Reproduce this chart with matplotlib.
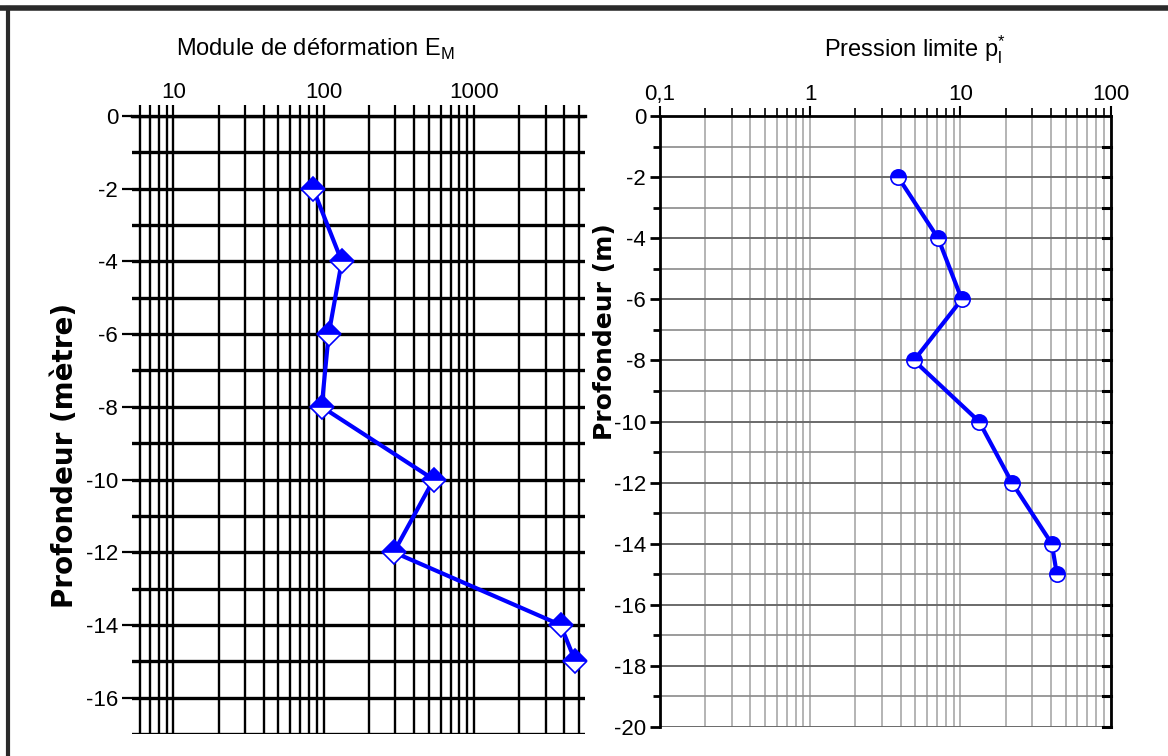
import matplotlib
matplotlib.use("Agg")
import matplotlib.pyplot as plt
import numpy as np
from matplotlib.ticker import LogLocator, FixedLocator, NullFormatter
from matplotlib.lines import Line2D

plt.rcParams['font.family'] = ['Liberation Sans', 'DejaVu Sans']
plt.rcParams['axes.unicode_minus'] = False

# profondeurs (m)
prof_em = [-2, -4, -6, -8, -10, -12, -14, -15]
em = [85, 132, 108, 97, 540, 293, 3770, 4730]

prof_pl = [-2, -4, -6, -8, -10, -12, -14, -15]
pl = [3.85, 7.1, 10.2, 4.9, 13.3, 22.0, 40.5, 43.8]

em_ticks = [10, 100, 1000]
pl_ticks = [0.1, 1, 10, 100]
pl_ticklabels = ['0,1', '1', '10', '100']

bleu = '#0000ff'

fig = plt.figure(figsize=(11.68, 7.56), dpi=100)

# ---------- graphique de gauche : module E_M ----------
ax1 = fig.add_axes([0.113, 0.0291, 0.388, 0.8175])
ax1.set_xscale('log')
ax1.set_xlim(5.3, 5500)
ax1.set_ylim(-17, 0)
for s in ax1.spines.values():
    s.set_visible(False)

ax1.xaxis.set_major_locator(FixedLocator(em_ticks))
ax1.xaxis.set_minor_locator(LogLocator(base=10, subs=np.arange(2, 10)))
ax1.xaxis.set_minor_formatter(NullFormatter())
ax1.set_xticklabels([str(t) for t in em_ticks])
ax1.xaxis.tick_top()
ax1.tick_params(axis='x', which='both', direction='out', length=8, width=1.6,
                color='black', labelsize=16, pad=1)
ax1.set_yticks(np.arange(-16, 1, 2))
ax1.yaxis.set_minor_locator(FixedLocator(np.arange(-17, 1, 1)))
ax1.tick_params(axis='y', which='major', direction='out', length=7, width=1.6, labelsize=16, pad=3)
ax1.tick_params(axis='y', which='minor', length=0)
ax1.grid(True, which='both', axis='x', color='black', linewidth=1.7)
ax1.grid(True, which='both', axis='y', color='black', linewidth=2.4)
ax1.axhline(0, color='black', linewidth=2.4, clip_on=False)

ax1.plot(em, prof_em, color=bleu, linewidth=3, marker='D', markersize=12,
         fillstyle='top', markerfacecolor=bleu, markerfacecoloralt='white',
         markeredgecolor=bleu, markeredgewidth=1.2, clip_on=False, zorder=5)

fig.text(0.27, 0.935, 'Module de déformation E$_\\mathregular{M}$', fontsize=17,
         ha='center', va='center')
fig.text(0.056, 0.398, 'Profondeur (mètre)', fontsize=20, fontweight='bold',
         rotation=90, ha='center', va='center', family='DejaVu Sans')

# ---------- graphique de droite : pression limite ----------
ax2 = fig.add_axes([0.565, 0.0384, 0.386, 0.808])
ax2.set_xscale('log')
ax2.set_xlim(0.1, 100)
ax2.set_ylim(-20, 0)
ax2.spines['bottom'].set_visible(False)
for k in ['left', 'top', 'right']:
    ax2.spines[k].set_linewidth(2)

ax2.xaxis.set_major_locator(FixedLocator(pl_ticks))
ax2.xaxis.set_minor_locator(LogLocator(base=10, subs=np.arange(2, 10)))
ax2.xaxis.set_minor_formatter(NullFormatter())
ax2.set_xticklabels(pl_ticklabels)
ax2.xaxis.tick_top()
ax2.tick_params(axis='x', which='major', direction='out', length=7, width=1.5, labelsize=16, pad=1)
ax2.tick_params(axis='x', which='minor', direction='out', length=6, width=1.2)
ax2.set_yticks(np.arange(-20, 1, 2))
ax2.yaxis.set_minor_locator(FixedLocator(np.arange(-19, 0, 2)))
ax2.tick_params(axis='y', which='major', direction='out', length=7, width=2, labelsize=16,
                left=True, right=False, pad=3)
ax2.tick_params(axis='y', which='minor', direction='out', length=5, width=2, left=True, right=False)
ax2.grid(True, which='both', axis='x', color='#a8a8a8', linewidth=1.2)
ax2.grid(True, which='major', axis='y', color='#6a6a6a', linewidth=1.4)
ax2.grid(True, which='minor', axis='y', color='#8a8a8a', linewidth=1.2)
# petits traits vers l'intérieur sur l'axe de droite
for yy in np.arange(-20, 0, 1):
    ax2.plot([0.982, 1.0], [yy, yy], transform=ax2.get_yaxis_transform(),
             color='black', linewidth=2.2, clip_on=False)

ax2.plot(pl, prof_pl, color=bleu, linewidth=3, marker='o', markersize=11,
         fillstyle='top', markerfacecolor=bleu, markerfacecoloralt='white',
         markeredgecolor=bleu, markeredgewidth=1.2, zorder=5)

fig.text(0.783, 0.935, 'Pression limite p$_\\mathregular{l}^{\\mathregular{*}}$', fontsize=17,
         ha='center', va='center')
fig.text(0.518, 0.561, 'Profondeur (m)', fontsize=18, fontweight='bold',
         rotation=90, ha='center', va='center', family='DejaVu Sans')

# cadre sombre en haut et à gauche
fig.add_artist(Line2D([0, 1], [0.989, 0.989], color='#2a2a2a', linewidth=4, transform=fig.transFigure))
fig.add_artist(Line2D([0.007, 0.007], [0, 0.989], color='#2a2a2a', linewidth=3, transform=fig.transFigure))

fig.savefig('out.png', dpi=100)
